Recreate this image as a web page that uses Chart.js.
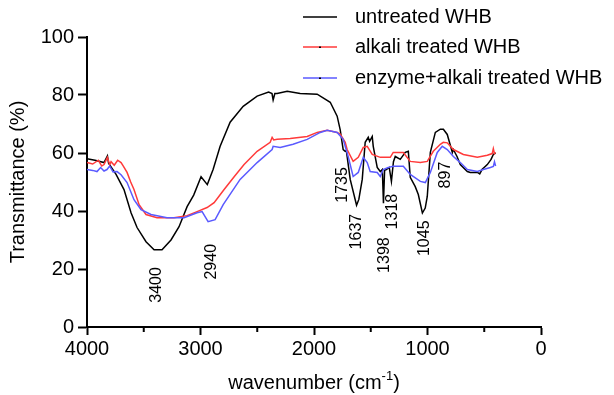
<!DOCTYPE html>
<html>
<head>
<meta charset="utf-8">
<script src="https://cdn.jsdelivr.net/npm/chart.js@4.4.1/dist/chart.umd.min.js"></script>
<style>
  html, body { margin: 0; padding: 0; background: #fff; }
  #wrap { width: 614px; height: 395px; position: relative; }
</style>
</head>
<body>
<div id="wrap"><canvas id="chart"></canvas></div>
<script>
// FTIR spectra, wavenumber (cm-1) vs transmittance (%)
const untreatedWn = [4000, 3930, 3850, 3820, 3810, 3744, 3674, 3612, 3559, 3480, 3409, 3339, 3260, 3189, 3118, 3060, 2995, 2940, 2889, 2827, 2739, 2624, 2501, 2400, 2370, 2360, 2345, 2325, 2236, 2122, 1972, 1857, 1796, 1769, 1752, 1743, 1725, 1715, 1681, 1625, 1605, 1575, 1549, 1522, 1510, 1487, 1478, 1443, 1416, 1398, 1388, 1378, 1363, 1337, 1318, 1300, 1284, 1240, 1196, 1169, 1152, 1108, 1081, 1045, 1020, 1002, 975, 931, 887, 860, 826, 781, 772, 740, 711, 649, 623, 560, 540, 520, 473, 440, 420, 400];
const untreatedT = [58, 57.5, 56.7, 59, 56.5, 52.6, 47.4, 39.4, 34.3, 29.4, 26.6, 26.6, 30, 34.6, 41.5, 45.5, 51.8, 49.1, 54.3, 62.3, 70.6, 76.1, 79.6, 81, 80.5, 78.3, 80.5, 80.5, 81.3, 80.5, 80.3, 77.5, 72.7, 68, 63.5, 61.2, 60.6, 60.8, 50.9, 42, 44, 50.9, 63.7, 65.4, 64, 65.7, 62.3, 55, 53.6, 54.3, 42.7, 54, 54.3, 55, 50.2, 57, 58.8, 57.8, 60.2, 60.6, 51.6, 48.4, 45.7, 39.3, 41, 45, 60.2, 67.1, 68.2, 68.2, 66.4, 60.2, 61.2, 58.8, 56, 53.6, 53.3, 53.3, 52.8, 54.3, 56, 57.8, 59.5, 60];

const alkaliWn = [4000, 3950, 3900, 3870, 3850, 3820, 3800, 3788, 3760, 3730, 3700, 3680, 3647, 3615, 3586, 3541, 3480, 3383, 3233, 3118, 3030, 2942, 2880, 2792, 2700, 2616, 2501, 2386, 2369, 2355, 2325, 2210, 2060, 1972, 1884, 1796, 1769, 1725, 1708, 1655, 1610, 1566, 1531, 1487, 1416, 1328, 1302, 1213, 1152, 1063, 1002, 949, 887, 861, 826, 772, 684, 561, 473, 430, 420, 410, 400];
const alkaliT = [56.7, 56.2, 57.5, 55.5, 56, 58.5, 56, 57, 55.8, 57.5, 56.7, 55.5, 53.3, 50, 47.4, 42.2, 38.8, 37.7, 37.7, 38.4, 39.8, 41.2, 42.9, 47.4, 52, 56, 60.6, 63.7, 65.4, 64.5, 64.7, 65, 65.7, 67.1, 67.8, 67.1, 66.5, 63.7, 61.2, 57.1, 58.5, 61.9, 62.3, 59.5, 58.5, 58.5, 60.2, 60.2, 57.1, 56.7, 57.1, 60.6, 63, 63.7, 63.5, 61.2, 59.5, 58.5, 59.2, 59.8, 61.5, 59.8, 60.2];

const enzymeWn = [4000, 3950, 3912, 3880, 3850, 3824, 3800, 3770, 3735, 3700, 3647, 3586, 3524, 3436, 3295, 3145, 3030, 2986, 2933, 2871, 2800, 2651, 2501, 2369, 2360, 2298, 2184, 2060, 1945, 1884, 1796, 1743, 1699, 1655, 1610, 1566, 1531, 1505, 1443, 1416, 1390, 1346, 1302, 1213, 1152, 1063, 1019, 975, 914, 870, 826, 772, 711, 649, 561, 508, 446, 420, 410, 400];
const enzymeT = [54.3, 54, 53.6, 55, 53.8, 54.3, 55.5, 53.5, 53.6, 52.5, 49.8, 43.9, 40.5, 38.8, 37.7, 37.7, 39.4, 39.8, 36.3, 37, 42.2, 50.9, 56.7, 61.2, 62.3, 61.9, 63, 64.7, 67.1, 67.8, 67.1, 64.7, 58.8, 51.9, 53.3, 58.5, 56.7, 53.6, 53.3, 51.9, 54.3, 55, 55.4, 55.4, 52.6, 50.2, 49.8, 53.3, 60.2, 62.3, 61.2, 58.8, 56.7, 54.3, 53.6, 54.3, 55, 55.4, 57, 55.5];

const seriesNames = ['untreated WHB', 'alkali treated WHB', 'enzyme+alkali treated WHB'];
const seriesColors = ['#000000', '#ff3a3a', '#5a5aff'];

// peak labels (text, wavenumber position, transmittance position)
const peakText = ['3400', '2940', '1735', '1637', '1398', '1318', '1045', '897'];
const peakX = [3386, 2901, 1745, 1624, 1381, 1310, 1028, 840];
const peakY = [14.5, 22.5, 49, 32.9, 24.8, 39.8, 30.6, 52.4];

const FONT = '"Liberation Sans", Arial, sans-serif';

function toPoints(xs, ys) {
    return xs.map((x, i) => ({x: x, y: ys[i]}));
}

const spectra = [[untreatedWn, untreatedT], [alkaliWn, alkaliT], [enzymeWn, enzymeT]];
const datasets = spectra.map((s, i) => ({
    label: seriesNames[i],
    data: toPoints(s[0], s[1]),
    borderColor: seriesColors[i],
    borderWidth: 1.5,
    pointRadius: 0,
    tension: 0,
    order: i === 0 ? 3 : (i === 1 ? 2 : 1)
}));

const extras = {
    id: 'extras',
    afterDraw(chart) {
        const ctx = chart.ctx;
        const xs = chart.scales.x, ys = chart.scales.y;
        ctx.save();
        // minor x ticks
        ctx.strokeStyle = '#000';
        ctx.lineWidth = 2;
        for (let v = 500; v < 4000; v += 1000) {
            const px = xs.getPixelForValue(v);
            ctx.beginPath();
            ctx.moveTo(px, ys.bottom);
            ctx.lineTo(px, ys.bottom + 5);
            ctx.stroke();
        }
        // peak labels
        ctx.fillStyle = '#000';
        ctx.font = '16px ' + FONT;
        ctx.textAlign = 'center';
        ctx.textBaseline = 'middle';
        peakText.forEach((t, i) => {
            ctx.save();
            ctx.translate(xs.getPixelForValue(peakX[i]), ys.getPixelForValue(peakY[i]));
            ctx.rotate(-Math.PI / 2);
            ctx.fillText(t, 0, 0);
            ctx.restore();
        });
        // x title with superscript
        const cx = (xs.left + xs.right) / 2;
        const ty = 383;
        ctx.font = '20px ' + FONT;
        const a = 'wavenumber (cm', sup = '-1', b = ')';
        ctx.textAlign = 'left';
        const wa = ctx.measureText(a).width;
        const wb = ctx.measureText(b).width;
        ctx.font = '13px ' + FONT;
        const ws = ctx.measureText(sup).width;
        let x0 = cx - (wa + ws + wb) / 2;
        ctx.font = '20px ' + FONT;
        ctx.fillText(a, x0, ty);
        ctx.font = '13px ' + FONT;
        ctx.fillText(sup, x0 + wa, ty - 7);
        ctx.font = '20px ' + FONT;
        ctx.fillText(b, x0 + wa + ws, ty);
        // legend
        const rows = [17, 47, 78];
        chart.data.datasets.forEach((ds, i) => {
            ctx.strokeStyle = ds.borderColor;
            ctx.lineWidth = 1.5;
            ctx.beginPath();
            ctx.moveTo(303, rows[i]);
            ctx.lineTo(337, rows[i]);
            ctx.stroke();
            if (i > 0) {
                ctx.fillStyle = '#000';
                ctx.fillRect(319, rows[i] - 0.5, 2, 1.5);
            }
            ctx.fillStyle = '#000';
            ctx.font = '20px ' + FONT;
            ctx.textAlign = 'left';
            ctx.fillText(ds.label, 355, rows[i]);
        });
        ctx.restore();
    }
};

const ctx = document.getElementById('chart');
new Chart(ctx, {
    type: 'line',
    data: {datasets: datasets},
    options: {
        responsive: true,
        maintainAspectRatio: false,
        animation: false,
        layout: {padding: {top: 37, right: 73, left: 0, bottom: 0}},
        plugins: {legend: {display: false}, tooltip: {enabled: false}},
        scales: {
            x: {
                type: 'linear',
                reverse: true,
                min: 0,
                max: 4000,
                afterFit: s => { s.height = 68; },
                border: {display: true, color: '#000', width: 2},
                grid: {drawOnChartArea: false, drawTicks: true, tickLength: 8, tickWidth: 2, tickColor: '#000'},
                ticks: {stepSize: 1000, color: '#000', font: {family: FONT, size: 20}, padding: 2, maxRotation: 0,
                        callback: v => String(v)},
                title: {display: false}
            },
            y: {
                min: 0,
                max: 100,
                afterFit: s => { s.width = 87; },
                border: {display: true, color: '#000', width: 2},
                grid: {drawOnChartArea: false, drawTicks: true, tickLength: 9, tickWidth: 2, tickColor: '#000'},
                ticks: {stepSize: 20, color: '#000', font: {family: FONT, size: 20}, padding: 4},
                title: {display: true, text: 'Transmittance (%)', color: '#000', font: {family: FONT, size: 20}, padding: {top: 6, bottom: 0}}
            }
        }
    },
    plugins: [extras]
});
</script>
</body>
</html>
